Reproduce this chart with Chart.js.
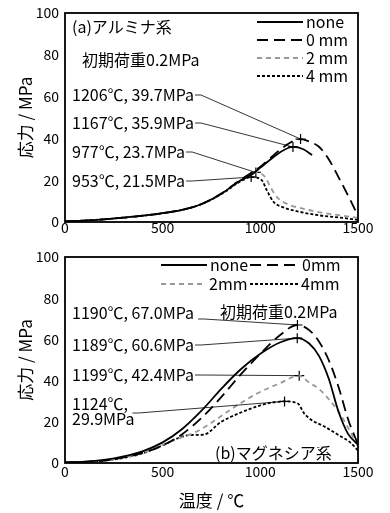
<!DOCTYPE html>
<html>
<head>
<meta charset="utf-8">
<script src="https://cdn.jsdelivr.net/npm/chart.js@4.4.0/dist/chart.umd.min.js"></script>
<style>
  body { margin: 0; background: #fff; }
  .box { position: relative; width: 390px; }
</style>
</head>
<body>
<div class="box" style="height:250px"><canvas id="chartA"></canvas></div>
<div class="box" style="height:263px"><canvas id="chartB"></canvas></div>
<script>
// series names
const seriesNames = ["none", "0 mm", "2 mm", "4 mm"];
const seriesNamesB = ["none", "0mm", "2mm", "4mm"];

// (a) alumina
const aNoneT = [0, 100, 200, 300, 400, 500, 600, 700, 800, 900, 953, 1000, 1050, 1100, 1167, 1220, 1265];
const aNoneS = [0.3, 0.7, 1.3, 2.1, 3.0, 4.2, 5.8, 8.6, 13.5, 20, 22.5, 26, 29.8, 33.3, 35.9, 34.8, 32];
const a0T = [0, 100, 200, 300, 400, 500, 600, 700, 800, 900, 1000, 1050, 1100, 1150, 1206, 1250, 1300, 1350, 1400, 1450, 1500];
const a0S = [0.3, 0.7, 1.3, 2.1, 3.0, 4.2, 5.8, 8.6, 13.6, 20.3, 26.5, 30.5, 34.5, 37.8, 39.7, 38.5, 36, 30, 21.5, 12.5, 3];
const a2T = [0, 100, 200, 300, 400, 500, 600, 700, 800, 900, 977, 1024, 1050, 1084, 1150, 1200, 1290, 1400, 1500];
const a2S = [0.3, 0.7, 1.3, 2.1, 3.0, 4.2, 5.8, 8.6, 13.5, 20, 23.7, 21.6, 17, 12, 8.1, 6.8, 4.9, 3.3, 2];
const a4T = [0, 100, 200, 300, 400, 500, 600, 700, 800, 900, 953, 1007, 1033, 1067, 1118, 1200, 1300, 1400, 1500];
const a4S = [0.3, 0.7, 1.3, 2.1, 3.0, 4.2, 5.8, 8.6, 13.3, 19.5, 21.5, 20, 15.2, 9.7, 7, 4.9, 3.2, 2.2, 1];
const aPeakT = [1206, 1167, 977, 953];
const aPeakS = [39.7, 35.9, 23.7, 21.5];

// (b) magnesia
const bNoneT = [0, 100, 200, 300, 400, 500, 600, 700, 800, 900, 1000, 1100, 1189, 1250, 1300, 1350, 1400, 1450, 1500];
const bNoneS = [0.3, 0.6, 1.5, 3.2, 5.8, 10, 16.5, 25.5, 36, 45.5, 53, 58.5, 60.6, 58, 52, 41, 25, 14, 9];
const b0T = [0, 100, 200, 300, 400, 500, 600, 700, 800, 900, 1000, 1100, 1190, 1250, 1300, 1350, 1400, 1450, 1500];
const b0S = [0.3, 0.5, 1.2, 2.7, 5, 8.5, 14, 22, 32, 43, 53, 62, 67, 64.5, 59, 50, 37, 21, 9];
const b2T = [0, 100, 200, 300, 400, 500, 600, 680, 780, 865, 985, 1100, 1199, 1250, 1300, 1350, 1400, 1450, 1500];
const b2S = [0.3, 0.5, 1.2, 2.7, 5, 8.8, 12.5, 15.5, 21.5, 27, 33.8, 38.7, 42.4, 39, 36, 31, 25, 17, 8];
const b4T = [0, 100, 200, 300, 400, 500, 600, 650, 710, 800, 900, 1000, 1050, 1124, 1190, 1225, 1260, 1330, 1410, 1460, 1500];
const b4S = [0.3, 0.5, 1.2, 2.5, 4.8, 8.6, 12.8, 13.6, 13.8, 20, 24.5, 28, 29.2, 29.9, 29, 24, 21, 17.6, 13, 10, 6];
const bPeakT = [1190, 1189, 1199, 1124];
const bPeakS = [67.0, 60.6, 42.4, 29.9];

const xTicks = [0, 500, 1000, 1500];
const yTicks = [0, 20, 40, 60, 80, 100];

const FONT = "'Noto Sans CJK JP', 'Noto Sans', sans-serif";
const styles = [
  { color: "#000", dash: [] },
  { color: "#000", dash: [11, 6] },
  { color: "#999", dash: [5, 4] },
  { color: "#000", dash: [3, 2] }
];

function pts(t, s) {
  return t.map((v, i) => ({ x: v, y: s[i] }));
}

function lineSet(label, t, s, st) {
  return {
    label, data: pts(t, s),
    borderColor: st.color, borderDash: st.dash, borderWidth: 1.8,
    pointRadius: 0, cubicInterpolationMode: "monotone", fill: false
  };
}

function peakSet(t, s) {
  return {
    type: "scatter", label: "peak", data: pts(t, s),
    pointStyle: "cross", pointRadius: 5, borderColor: "#000",
    borderWidth: 1.2, backgroundColor: "#000"
  };
}

function peakText(t, s) {
  return t + "℃, " + s.toFixed(1) + "MPa";
}

// frame, texts, leader lines and legend
const notesPlugin = {
  id: "notes",
  afterDatasetsDraw(chart, args, opts) {
    const ctx = chart.ctx;
    const a = chart.chartArea;
    const xs = chart.scales.x, ys = chart.scales.y;
    ctx.save();
    ctx.strokeStyle = "#000";
    ctx.lineWidth = 1.8;
    ctx.strokeRect(a.left, a.top, a.right - a.left, a.bottom - a.top);

    ctx.font = "16px " + FONT;
    ctx.fillStyle = "#000";
    ctx.textBaseline = "middle";
    ctx.textAlign = "left";
    (opts.texts || []).forEach(tx => ctx.fillText(tx.text, tx.x, tx.y));

    ctx.lineWidth = 0.8;
    (opts.leaders || []).forEach(ld => {
      let w = 0;
      ld.lines.forEach((ln, k) => {
        ctx.fillText(ln, ld.x, ld.y + k * 15);
        w = Math.max(w, ctx.measureText(ln).width);
      });
      const sx = ld.x + w + (ld.gap || 1);
      const sy = ld.y + (ld.dy || 0);
      ctx.beginPath();
      ctx.moveTo(sx, sy);
      ctx.lineTo(sx + 6, sy);
      ctx.lineTo(xs.getPixelForValue(ld.t), ys.getPixelForValue(ld.s));
      ctx.stroke();
    });

    (opts.legend || []).forEach(lg => {
      const st = styles[lg.i];
      ctx.strokeStyle = st.color;
      ctx.setLineDash(st.dash);
      ctx.lineWidth = 1.8;
      ctx.beginPath();
      ctx.moveTo(lg.x0, lg.y);
      ctx.lineTo(lg.x1, lg.y);
      ctx.stroke();
      ctx.setLineDash([]);
      ctx.fillText(lg.text, lg.x1 + 3, lg.y);
    });
    ctx.restore();
  }
};

function makeChart(id, sets, peaks, opt) {
  const tickFont = { family: FONT, size: 14 };
  const titleFont = { family: FONT, size: 17 };
  return new Chart(document.getElementById(id), {
    type: "line",
    data: { datasets: sets.concat([peaks]) },
    plugins: [notesPlugin],
    options: {
      responsive: true, maintainAspectRatio: false, animation: false,
      layout: { padding: { top: opt.top, right: 32, left: 0, bottom: 0 } },
      plugins: { legend: { display: false }, tooltip: { enabled: false }, notes: opt.notes },
      scales: {
        x: {
          type: "linear", min: 0, max: 1500,
          afterBuildTicks: s => { s.ticks = xTicks.map(v => ({ value: v })); },
          afterFit: s => { s.height = opt.xh; s.paddingLeft = 0; s.paddingRight = 0; },
          grid: { display: false, drawTicks: false }, border: { display: false },
          ticks: { padding: opt.xpad, color: "#000", font: tickFont, callback: v => String(v) },
          title: { display: !!opt.xtitle, text: opt.xtitle, color: "#000", font: titleFont, padding: { top: 6, bottom: 2 } }
        },
        y: {
          min: 0, max: 100,
          afterBuildTicks: s => { s.ticks = yTicks.map(v => ({ value: v })); },
          afterFit: s => { s.width = 65; s.paddingTop = 0; s.paddingBottom = 0; },
          grid: { display: false, drawTicks: false }, border: { display: false },
          ticks: { padding: 6, color: "#000", font: tickFont, callback: v => String(v) },
          title: { display: true, text: "応力 / MPa", color: "#000", font: titleFont, padding: { top: 15, bottom: 0 } }
        }
      }
    }
  });
}

const srcA = [[aNoneT, aNoneS], [a0T, a0S], [a2T, a2S], [a4T, a4S]];
const srcB = [[bNoneT, bNoneS], [b0T, b0S], [b2T, b2S], [b4T, b4S]];

makeChart("chartA",
  srcA.map((d, i) => lineSet(seriesNames[i], d[0], d[1], styles[i])),
  peakSet(aPeakT, aPeakS),
  {
    top: 13, xh: 28, xpad: -3,
    notes: {
      texts: [
        { text: "(a)アルミナ系", x: 72, y: 27 },
        { text: "初期荷重0.2MPa", x: 82, y: 60 }
      ],
      leaders: aPeakT.map((t, i) => ({
        lines: [peakText(t, aPeakS[i])], x: 72, y: [95, 123, 152, 181][i], t, s: aPeakS[i]
      })),
      legend: seriesNames.map((n, i) => ({ i, text: n, x0: 257, x1: 303, y: [22, 40, 58, 76][i] }))
    }
  });

makeChart("chartB",
  srcB.map((d, i) => lineSet(seriesNamesB[i], d[0], d[1], styles[i])),
  peakSet(bPeakT, bPeakS),
  {
    top: 7, xh: 50, xpad: 0, xtitle: "温度 / ℃",
    notes: {
      texts: [
        { text: "初期荷重0.2MPa", x: 220, y: 62 },
        { text: "(b)マグネシア系", x: 215, y: 203 }
      ],
      leaders: [
        { lines: [peakText(bPeakT[0], bPeakS[0])], x: 72, y: 63, dy: 6, gap: 4, t: bPeakT[0], s: bPeakS[0] },
        { lines: [peakText(bPeakT[1], bPeakS[1])], x: 72, y: 95, t: bPeakT[1], s: bPeakS[1] },
        { lines: [peakText(bPeakT[2], bPeakS[2])], x: 72, y: 125, t: bPeakT[2], s: bPeakS[2] },
        { lines: [bPeakT[3] + "℃,", bPeakS[3].toFixed(1) + "MPa"], x: 72, y: 154, dy: 9, gap: -2, t: bPeakT[3], s: bPeakS[3] }
      ],
      legend: [
        { i: 0, text: "none", x0: 161, x1: 207, y: 15 },
        { i: 1, text: "0mm", x0: 250, x1: 299, y: 15 },
        { i: 2, text: "2mm", x0: 161, x1: 206, y: 34 },
        { i: 3, text: "4mm", x0: 250, x1: 298, y: 34 }
      ]
    }
  });
</script>
</body>
</html>
